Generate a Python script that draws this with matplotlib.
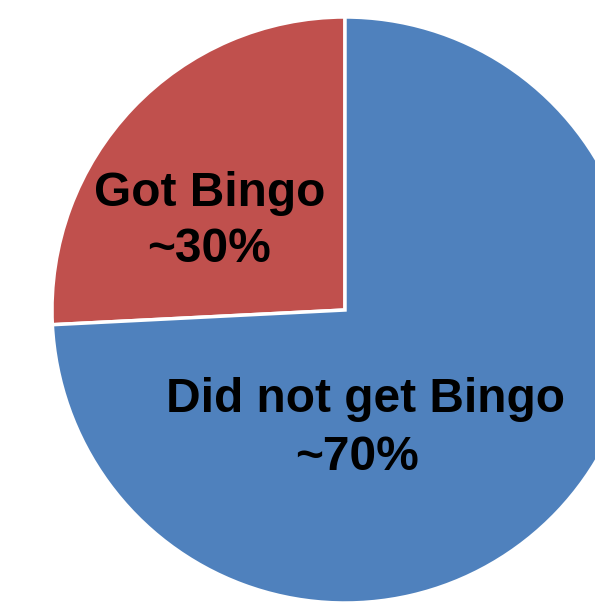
import matplotlib
matplotlib.use('Agg')
import matplotlib.pyplot as plt

# slice shares as drawn in the picture (labels say ~30% / ~70%)
categories = ['Got Bingo', 'Did not get Bingo']
shares = [25.8, 74.2]
pct_labels = ['~30%', '~70%']
colors = ['#C0504D', '#4F81BD']

fig = plt.figure(figsize=(5.95, 6.03), dpi=100)
ax = fig.add_axes([0, 0, 1, 1])

# pie runs off the right edge of the frame, like the original
wedges, _ = ax.pie(shares, colors=colors, startangle=90, counterclock=True,
                   center=(345, 293), radius=293, frame=True,
                   wedgeprops=dict(edgecolor='white', linewidth=2.5))
ax.set_xlim(0, 595)
ax.set_ylim(0, 603)
ax.set_aspect('equal')
ax.axis('off')

font = dict(ha='center', va='center', fontsize=34.5, fontweight='bold',
            family='Liberation Sans')
# name line, then percentage line under it
ax.text(210, 410, categories[0], **font)
ax.text(209, 353, pct_labels[0], **font)
ax.text(365, 204, categories[1], **font)
ax.text(357, 146, pct_labels[1], **font)

fig.savefig('out.png', dpi=100)
